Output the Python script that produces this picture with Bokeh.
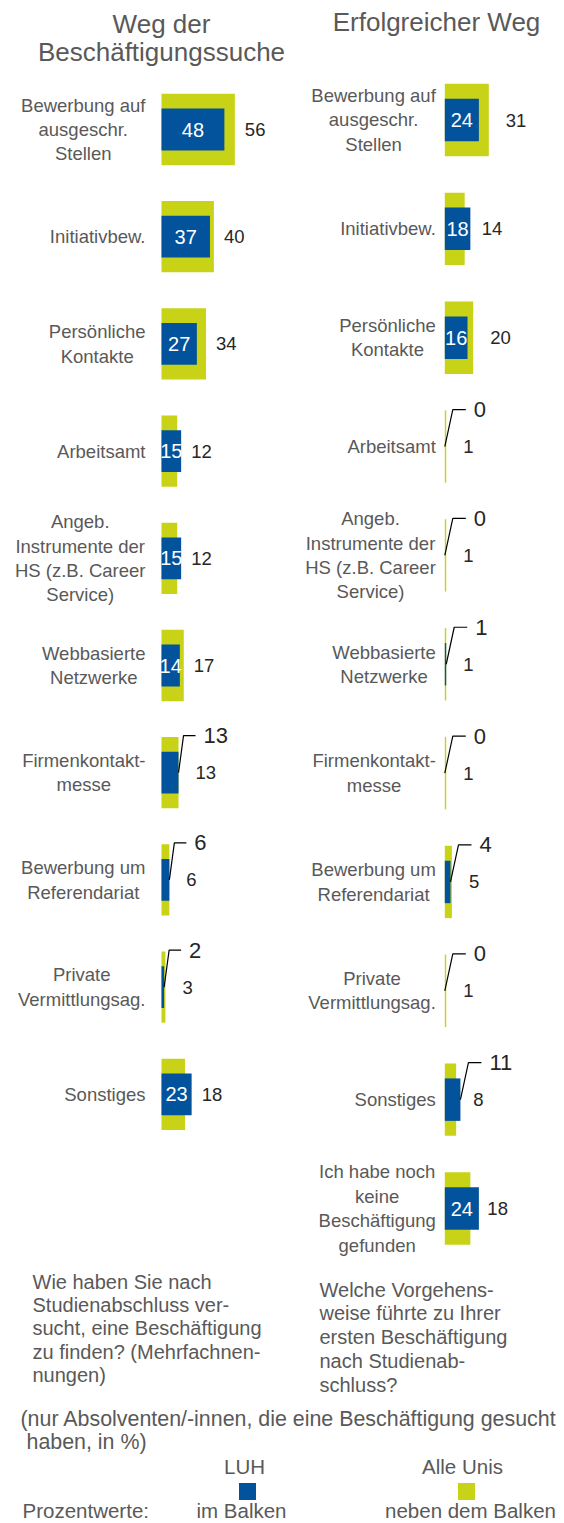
from bokeh.plotting import figure
from bokeh.models import Range1d, ColumnDataSource
from bokeh.embed import file_html
from bokeh.resources import INLINE
from bokeh.core.properties import value

# ---------------- data ----------------
categories_left = [
    "Bewerbung auf\nausgeschr.\nStellen",
    "Initiativbew.",
    "Persönliche\nKontakte",
    "Arbeitsamt",
    "Angeb.\nInstrumente der\nHS (z.B. Career\nService)",
    "Webbasierte\nNetzwerke",
    "Firmenkontakt-\nmesse",
    "Bewerbung um\nReferendariat",
    "Private\nVermittlungsag.",
    "Sonstiges",
]
luh_left = [48, 37, 27, 15, 15, 14, 13, 6, 2, 23]
alle_left = [56, 40, 34, 12, 12, 17, 13, 6, 3, 18]

categories_right = [
    "Bewerbung auf\nausgeschr.\nStellen",
    "Initiativbew.",
    "Persönliche\nKontakte",
    "Arbeitsamt",
    "Angeb.\nInstrumente der\nHS (z.B. Career\nService)",
    "Webbasierte\nNetzwerke",
    "Firmenkontakt-\nmesse",
    "Bewerbung um\nReferendariat",
    "Private\nVermittlungsag.",
    "Sonstiges",
    "Ich habe noch\nkeine\nBeschäftigung\ngefunden",
]
luh_right = [24, 18, 16, 0, 0, 1, 0, 4, 0, 11, 24]
alle_right = [31, 14, 20, 1, 1, 1, 1, 5, 1, 8, 18]

title_left = ["Weg der", "Beschäftigungssuche"]
title_right = ["Erfolgreicher Weg"]
question_left = ["Wie haben Sie nach", "Studienabschluss ver-", "sucht, eine Beschäftigung",
                 "zu finden? (Mehrfachnen-", "nungen)"]
question_right = ["Welche Vorgehens-", "weise führte zu Ihrer", "ersten Beschäftigung",
                  "nach Studienab-", "schluss?"]
note_lines = ["(nur Absolventen/-innen, die eine Beschäftigung gesucht", "haben, in %)"]
legend_names = ["LUH", "Alle Unis"]
legend_desc = ["im Balken", "neben dem Balken"]
legend_prefix = "Prozentwerte:"

# ---------------- style ----------------
BLUE = "#02539b"
GREEN = "#c8d318"
GREY = "#595959"
DARK = "#262626"
FONT = value("Liberation Sans")
INSIDE_MIN = 14  # LUH values below this are labelled with a leader line

W, H = 564, 1523
X0, Y0 = 0, 0
X1, Y1 = X0 + W, Y0 + H

p = figure(width=W, height=H, output_backend="svg", toolbar_location=None,
           x_range=Range1d(X0, X1), y_range=Range1d(Y1, Y0),
           x_axis_location=None, y_axis_location=None, min_border=0,
           outline_line_color=None, background_fill_color="white",
           border_fill_color="white")
p.grid.visible = False

panels = [
    dict(name="l", labels=categories_left, luh=luh_left, alle=alle_left,
         origin=161.0, pxu=1.31, row0=129.0, rowpx=107.2, label_gap=16,
         side_base="max", side_gap=10, lead=(5, 17, 25)),
    dict(name="r", labels=categories_right, luh=luh_right, alle=alle_right,
         origin=444.3, pxu=1.42, row0=119.5, rowpx=108.85, label_gap=9,
         side_base="alle", side_gap=17, lead=(8, 21, 29)),
]

xr_map, yr_map = {}, {}
for pn in panels:
    xr_map["x" + pn["name"]] = Range1d((X0 - pn["origin"]) / pn["pxu"], (X1 - pn["origin"]) / pn["pxu"])
    yr_map["y" + pn["name"]] = Range1d((Y1 - pn["row0"]) / pn["rowpx"], (Y0 - pn["row0"]) / pn["rowpx"])
p.extra_x_ranges = xr_map
p.extra_y_ranges = yr_map

for pn in panels:
    xn, yn = "x" + pn["name"], "y" + pn["name"]
    n = len(pn["labels"])
    idx = list(range(n))
    src = ColumnDataSource(dict(y=idx, luh=pn["luh"], alle=pn["alle"], label=pn["labels"]))
    kw = dict(x_range_name=xn, y_range_name=yn)
    p.hbar(y="y", left=0, right="alle", height=0.665, fill_color=GREEN, line_color=None, source=src, **kw)
    p.hbar(y="y", left=0, right="luh", height=0.39, fill_color=BLUE, line_color=None, source=src, **kw)

    # category labels
    p.text(x=0, y="y", text="label", source=src, x_offset=-pn["label_gap"],
           text_align="center", text_baseline="middle", anchor="center_right",
           text_font=FONT, text_font_size="18.5px", text_color=GREY,
           text_line_height=1.16, **kw)

    # inside labels (LUH)
    ins = [i for i in idx if pn["luh"][i] >= INSIDE_MIN]
    p.text(x=[pn["luh"][i] / 2 for i in ins], y=ins, text=[str(pn["luh"][i]) for i in ins],
           text_align="center", text_baseline="middle", text_font=FONT,
           text_font_size="20px", text_color="white", **kw)

    # side labels (Alle Unis)
    lead_rows = [i for i in idx if pn["luh"][i] < INSIDE_MIN]
    sx, soff = [], []
    for i in idx:
        if pn["side_base"] == "max":
            sx.append(max(pn["luh"][i], pn["alle"][i]))
        else:
            sx.append(pn["alle"][i])
        soff.append(17 if i in lead_rows else pn["side_gap"])
    sside = ColumnDataSource(dict(x=sx, y=idx, off=soff, t=[str(v) for v in pn["alle"]]))
    p.text(x="x", y="y", text="t", x_offset="off", source=sside,
           text_align="left", text_baseline="middle", text_font=FONT,
           text_font_size="18.5px", text_color=DARK, **kw)

    # leader lines + outside LUH labels
    d1, d2, dl = pn["lead"]
    up = 37
    xs, ys = [], []
    for i in lead_rows:
        v = pn["luh"][i]
        xs.append([v, v + d1 / pn["pxu"], v + d2 / pn["pxu"]])
        ys.append([i, i - up / pn["rowpx"], i - up / pn["rowpx"]])
    p.multi_line(xs=xs, ys=ys, line_color="black", line_width=1.2, **kw)
    p.text(x=[pn["luh"][i] for i in lead_rows], y=lead_rows,
           text=[str(pn["luh"][i]) for i in lead_rows], x_offset=dl, y_offset=-up,
           text_align="left", text_baseline="middle", text_font=FONT,
           text_font_size="22px", text_color=DARK, **kw)

# ---------------- titles ----------------
TXT = dict(text_baseline="middle", text_font=FONT, text_color=GREY)
p.text(x=[161, 161], y=[23, 51], text=title_left, text_align="center",
       text_font_size="26px", **TXT)
p.text(x=[436], y=[21], text=title_right, text_align="center",
       text_font_size="26px", **TXT)

# ---------------- questions ----------------
p.text(x=[32] * len(question_left), y=[1281 + k * 23.4 for k in range(len(question_left))],
       text=question_left, text_align="left", text_font_size="20px", **TXT)
p.text(x=[319] * len(question_right), y=[1289 + k * 23.8 for k in range(len(question_right))],
       text=question_right, text_align="left", text_font_size="20px", **TXT)

# ---------------- note + legend ----------------
p.text(x=[20, 26], y=[1418, 1441], text=note_lines, text_align="left",
       text_font_size="21.4px", **TXT)
p.text(x=[244, 462], y=[1466, 1466], text=legend_names, text_align="center",
       text_font_size="20.5px", **TXT)
p.rect(x=[247, 466], y=[1491, 1491], width=17, height=17,
       fill_color=[BLUE, GREEN], line_color=None)
p.text(x=[22], y=[1510], text=[legend_prefix], text_align="left",
       text_font_size="20.5px", **TXT)
p.text(x=[241, 470], y=[1510, 1510], text=legend_desc, text_align="center",
       text_font_size="20.5px", **TXT)

open("out.html", "w").write(file_html(p, INLINE))
